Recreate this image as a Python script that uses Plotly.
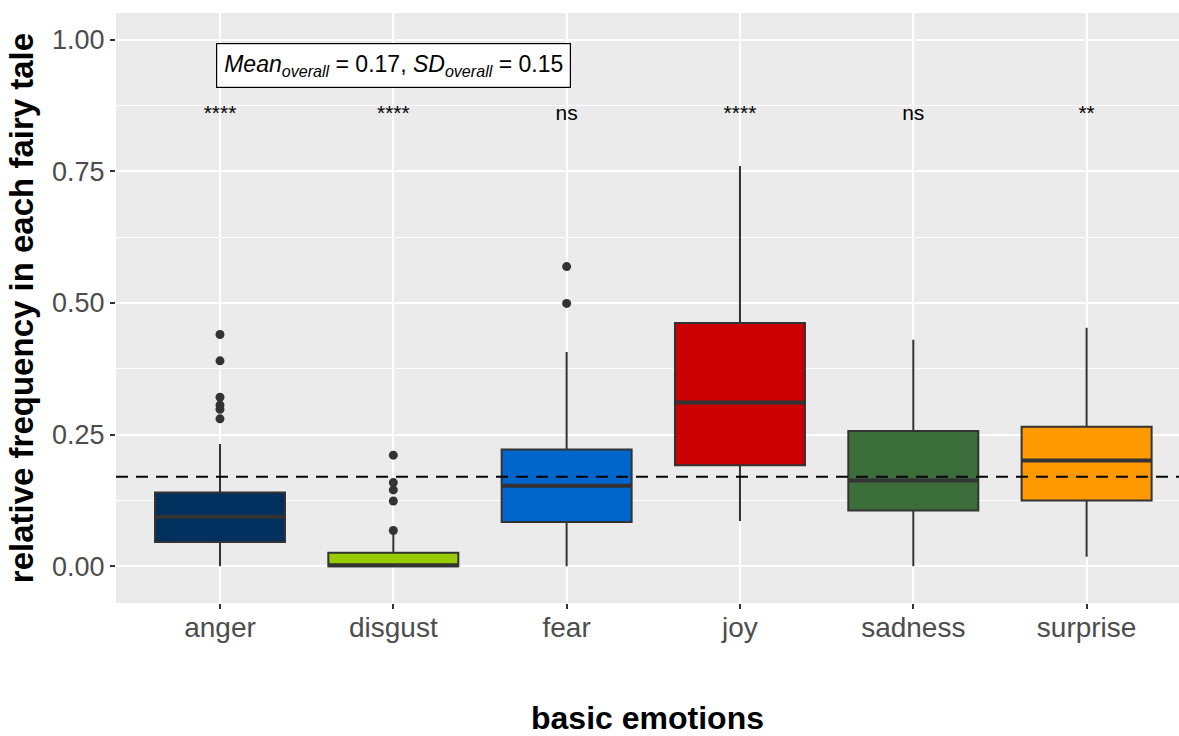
import plotly.graph_objects as go

categories = ["anger", "disgust", "fear", "joy", "sadness", "surprise"]
q1_vals = [0.046, 0.0, 0.084, 0.192, 0.106, 0.125]
median_vals = [0.094, 0.002, 0.153, 0.311, 0.163, 0.201]
q3_vals = [0.140, 0.026, 0.222, 0.462, 0.257, 0.265]
lower_whisker = [0.0, 0.0, 0.0, 0.086, 0.0, 0.018]
upper_whisker = [0.232, 0.061, 0.407, 0.760, 0.430, 0.453]
box_colors = ["#00305E", "#99CC00", "#0066CC", "#CC0000", "#3C6E3C", "#FF9900"]

outlier_cat = ["anger", "anger", "anger", "anger", "anger", "anger",
               "disgust", "disgust", "disgust", "disgust", "disgust",
               "fear", "fear"]
outlier_val = [0.440, 0.390, 0.321, 0.306, 0.298, 0.280,
               0.211, 0.159, 0.145, 0.124, 0.068,
               0.569, 0.499]

sig_labels = ["****", "****", "ns", "****", "ns", "**"]
sig_y = 0.858
mean_overall = 0.17
sd_overall = 0.15

box_width = 0.75
x_idx = list(range(len(categories)))

fig = go.Figure()

for i, cat in enumerate(categories):
    fig.add_trace(go.Box(
        x=[i], q1=[q1_vals[i]], median=[median_vals[i]], q3=[q3_vals[i]],
        lowerfence=[lower_whisker[i]], upperfence=[upper_whisker[i]],
        width=box_width, whiskerwidth=0,
        fillcolor=box_colors[i],
        line=dict(color="#333333", width=2),
        showlegend=False, name=cat, hoverinfo="skip",
    ))

# thicker median lines (ggplot fatten)
mx, my = [], []
for i in x_idx:
    mx += [i - box_width / 2, i + box_width / 2, None]
    my += [median_vals[i], median_vals[i], None]
fig.add_trace(go.Scatter(x=mx, y=my, mode="lines",
                         line=dict(color="#333333", width=4),
                         showlegend=False, hoverinfo="skip"))

# outliers
fig.add_trace(go.Scatter(
    x=[categories.index(c) for c in outlier_cat], y=outlier_val,
    mode="markers", marker=dict(color="#333333", size=9),
    showlegend=False, hoverinfo="skip"))

# overall mean dashed line
fig.add_trace(go.Scatter(
    x=[-0.6, len(categories) - 0.4], y=[mean_overall, mean_overall],
    mode="lines", line=dict(color="black", width=2, dash="12px,8px"),
    showlegend=False, hoverinfo="skip"))

# significance labels
fig.add_trace(go.Scatter(
    x=x_idx, y=[sig_y] * len(categories), mode="text", text=sig_labels,
    textposition="middle center",
    textfont=dict(family="Liberation Sans", size=21, color="black"),
    showlegend=False, hoverinfo="skip"))

fig.add_annotation(
    x=1, y=0.951, xref="x", yref="y",
    text=f"<i>Mean</i><sub><i>overall</i></sub> = {mean_overall:.2f}, "
         f"<i>SD</i><sub><i>overall</i></sub> = {sd_overall:.2f}",
    showarrow=False, font=dict(family="Liberation Sans", size=23, color="black"),
    bgcolor="white", bordercolor="black", borderwidth=1.2, borderpad=7,
    xanchor="center", yanchor="middle")

fig.update_layout(
    width=1179, height=736,
    margin=dict(l=116, r=0, t=13, b=133),
    paper_bgcolor="white", plot_bgcolor="#EBEBEB",
    font=dict(family="Liberation Sans", color="black"),
    xaxis=dict(
        range=[-0.6, 5.533],
        tickmode="array", tickvals=x_idx, ticktext=categories,
        tickfont=dict(size=28, color="#4D4D4D"),
        ticks="outside", ticklen=5, tickcolor="#333333", tickwidth=1.5,
        ticklabelstandoff=-6,
        showgrid=True, gridcolor="white", gridwidth=2,
        zeroline=False, showline=False,
        title=dict(text="<b>basic emotions</b>", font=dict(size=32, color="black"),
                   standoff=68),
    ),
    yaxis=dict(
        range=[-0.0696, 1.0503],
        tickmode="array", tickvals=[0, 0.25, 0.5, 0.75, 1.0],
        ticktext=["0.00", "0.25", "0.50", "0.75", "1.00"],
        tickfont=dict(size=27, color="#4D4D4D"),
        ticks="outside", ticklen=5, tickcolor="#333333", tickwidth=1.5,
        showgrid=True, gridcolor="white", gridwidth=2,
        minor=dict(tickvals=[0.125, 0.375, 0.625, 0.875], showgrid=True,
                   gridcolor="white", gridwidth=1, ticks=""),
        zeroline=False, showline=False,
        title=dict(text="<b>relative frequency in each fairy tale</b>",
                   font=dict(size=33, color="black"), standoff=8),
    ),
)

fig.write_html("out.html")
